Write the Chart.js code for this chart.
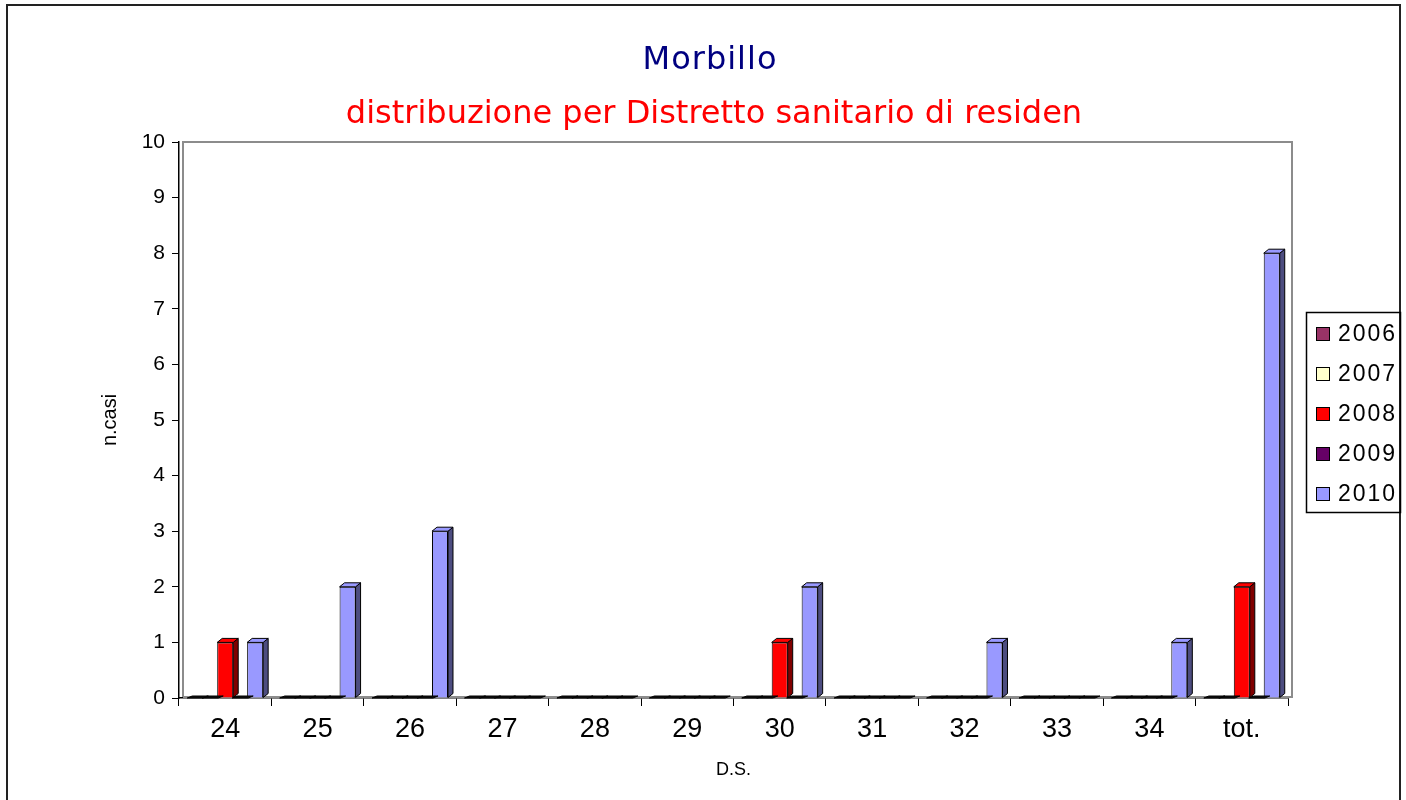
<!DOCTYPE html>
<html>
<head>
<meta charset="utf-8">
<script src="https://cdn.jsdelivr.net/npm/chart.js@4.4.0/dist/chart.umd.min.js"></script>
<style>
  html, body { margin: 0; padding: 0; background: #fff; }
  #wrap { width: 1406px; height: 800px; position: relative; }
</style>
</head>
<body>
<div id="wrap"><canvas id="myChart" width="1406" height="800"></canvas></div>
<script>
const categories = ['24', '25', '26', '27', '28', '29', '30', '31', '32', '33', '34', 'tot.'];
const years = ['2006', '2007', '2008', '2009', '2010'];
const v2006 = [0, 0, 0, 0, 0, 0, 0, 0, 0, 0, 0, 0];
const v2007 = [0, 0, 0, 0, 0, 0, 0, 0, 0, 0, 0, 0];
const v2008 = [1, 0, 0, 0, 0, 0, 1, 0, 0, 0, 0, 2];
const v2009 = [0, 0, 0, 0, 0, 0, 0, 0, 0, 0, 0, 0];
const v2010 = [1, 2, 3, 0, 0, 0, 2, 0, 1, 0, 1, 8];
const yTicks = [0, 1, 2, 3, 4, 5, 6, 7, 8, 9, 10];

const colors = ['#993366', '#FFFFCC', '#FF0000', '#660066', '#9999FF'];
const series = [v2006, v2007, v2008, v2009, v2010];

function darker(hex) {
    const n = parseInt(hex.slice(1), 16);
    const r = (n >> 16) & 255, g = (n >> 8) & 255, b = n & 255;
    return `rgb(${Math.round(r / 2)},${Math.round(g / 2)},${Math.round(b / 2)})`;
}

// side + top faces of the excel-like 3d columns
const depthBars = {
    id: 'depthBars',
    afterDatasetDraw(chart, args) {
        const ctx = chart.ctx;
        const dx = 5, dy = 4;
        const col = colors[args.index];
        ctx.save();
        ctx.lineWidth = 1;
        ctx.strokeStyle = '#000';
        args.meta.data.forEach(bar => {
            const p = bar.getProps(['x', 'y', 'base', 'width'], true);
            const l = p.x - p.width / 2, r = p.x + p.width / 2;
            const t = Math.min(p.y, p.base), b = p.base;
            const flat = b - t <= 0.5;
            if (!flat) {
                ctx.beginPath();
                ctx.moveTo(r, t);
                ctx.lineTo(r + dx, t - dy);
                ctx.lineTo(r + dx, b - dy);
                ctx.lineTo(r, b);
                ctx.closePath();
                ctx.fillStyle = darker(col);
                ctx.fill();
                ctx.stroke();
            }
            // zero columns collapse to a dark slab on the floor
            const ty = flat ? 2 : dy;
            ctx.beginPath();
            ctx.moveTo(l, t);
            ctx.lineTo(l + dx, t - ty);
            ctx.lineTo(r + dx, t - ty);
            ctx.lineTo(r, t);
            ctx.closePath();
            ctx.fillStyle = flat ? '#111' : col;
            ctx.fill();
            ctx.stroke();
        });
        ctx.restore();
    }
};

// back wall, frame, titles and the boxed legend
const decor = {
    id: 'decor',
    beforeDatasetsDraw(chart) {
        const {ctx, chartArea: a} = chart;
        ctx.save();
        ctx.strokeStyle = '#8c8c8c';
        ctx.lineWidth = 2;
        ctx.beginPath();
        ctx.moveTo(a.left + 4, a.bottom - 1);
        ctx.lineTo(a.left + 4, a.top);
        ctx.lineTo(a.right + 4, a.top);
        ctx.lineTo(a.right + 4, a.bottom - 1);
        ctx.lineTo(a.left + 4, a.bottom - 1);
        ctx.stroke();
        ctx.restore();
    },
    afterDraw(chart) {
        const ctx = chart.ctx;
        ctx.save();
        ctx.strokeStyle = '#222';
        ctx.lineWidth = 2;
        ctx.strokeRect(7, 5, 1393, 900);

        ctx.textAlign = 'center';
        ctx.textBaseline = 'middle';
        ctx.font = '32px "Comic Sans MS", "DejaVu Sans", sans-serif';
        ctx.fillStyle = '#000080';
        ctx.letterSpacing = '1px';
        ctx.fillText('Morbillo', 710, 61);
        ctx.letterSpacing = '0px';
        ctx.fillStyle = '#FF0000';
        ctx.fillText('distribuzione per Distretto sanitario di residen', 714, 115);

        // legend
        const lx = 1306, ly = 312;
        ctx.lineWidth = 1.5;
        ctx.strokeStyle = '#000';
        ctx.strokeRect(lx + 0.5, ly + 0.5, 94, 200);
        ctx.textAlign = 'left';
        ctx.font = '23px "Liberation Sans", Arial, sans-serif';
        ctx.letterSpacing = '2px';
        chart.data.datasets.forEach((ds, i) => {
            const cy = ly + 22 + i * 40;
            ctx.fillStyle = ds.backgroundColor;
            ctx.fillRect(lx + 10, cy - 7, 14, 14);
            ctx.lineWidth = 1;
            ctx.strokeRect(lx + 10.5, cy - 6.5, 13, 13);
            ctx.fillStyle = '#000';
            ctx.fillText(ds.label, lx + 32, cy + 1);
        });
        ctx.restore();
    }
};

const ctx = document.getElementById('myChart');

const config = {
    type: 'bar',
    data: {
        labels: categories,
        datasets: years.map((y, i) => ({
            label: y,
            data: series[i],
            backgroundColor: colors[i],
            borderColor: '#000',
            borderWidth: 1,
            categoryPercentage: 0.81,
            barPercentage: 1.07
        }))
    },
    options: {
        responsive: false,
        animation: false,
        layout: {
            padding: {top: 142, right: 118, bottom: 0, left: 0}
        },
        plugins: {
            legend: {display: false},
            tooltip: {enabled: false}
        },
        scales: {
            x: {
                grid: {
                    offset: true,
                    drawOnChartArea: false,
                    tickLength: 8,
                    color: '#000'
                },
                border: {color: '#000', width: 1.5},
                ticks: {
                    color: '#000',
                    padding: 7,
                    font: {family: '"Liberation Sans", Arial, sans-serif', size: 27}
                },
                title: {
                    display: true,
                    text: 'D.S.',
                    color: '#000',
                    font: {family: '"Liberation Sans", Arial, sans-serif', size: 18},
                    padding: {top: 0, bottom: 19}
                },
                afterFit(scale) { scale.height = 102; }
            },
            y: {
                min: 0,
                max: 10,
                afterBuildTicks(scale) { scale.ticks = yTicks.map(v => ({value: v})); },
                grid: {
                    drawOnChartArea: false,
                    tickLength: 7,
                    color: '#000'
                },
                border: {color: '#000', width: 1.5},
                ticks: {
                    color: '#000',
                    padding: 7,
                    autoSkip: false,
                    font: {family: '"Liberation Sans", Arial, sans-serif', size: 21}
                },
                title: {
                    display: true,
                    text: 'n.casi',
                    color: '#000',
                    font: {family: '"Liberation Sans", Arial, sans-serif', size: 20},
                    padding: {top: 98, bottom: 0}
                },
                afterFit(scale) { scale.width = 179; }
            }
        }
    },
    plugins: [decor, depthBars]
};

new Chart(ctx, config);
</script>
</body>
</html>
